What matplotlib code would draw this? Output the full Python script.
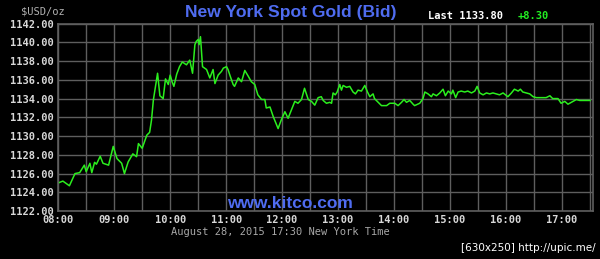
import matplotlib
matplotlib.use('Agg')
import matplotlib.pyplot as plt

# minutes after 08:00 and bid price
minutes = [0, 5, 12, 18, 23, 28, 30, 34, 36, 39, 41, 45, 48, 54, 59, 63, 68, 71, 75, 80,
           84, 86, 90, 95, 98, 100, 102, 104, 106.5, 109, 112.5, 115, 118, 120, 122, 124, 127, 130, 133, 137.5,
           141, 144, 146.5, 148, 150, 151, 152.5, 153.6, 154.7, 159, 162.5, 166, 168, 171.4, 175, 177, 180.4, 182, 184, 187.5,
           189, 193, 196.5, 200, 203.6, 207, 210.7, 214, 218, 221.5, 223, 227, 230.4, 235.7, 239, 243, 246.4, 250, 253.6, 257,
           260.8, 264, 268, 271.5, 275, 278.6, 282, 284, 287.5, 291, 293, 294.6, 297, 299, 301.8, 303.6, 305.4, 309, 312.5, 316,
           318.6, 321.4, 325, 328.6, 331.5, 334, 337.5, 339, 343, 346.5, 352, 355.4, 360.7, 364.3, 368, 370.7, 373.3, 376.8, 380.4, 382,
           387.5, 391, 393, 396.4, 400, 401.8, 405.4, 409, 412.5, 415, 418, 421.5, 423, 426, 428.6, 432, 435.7, 439, 443, 446.5,
           449, 451.8, 455.4, 459, 462.5, 466, 469.7, 473, 476.8, 482, 485.8, 489, 493, 495.4, 498, 501.8, 505.4, 509, 512.5, 518,
           523, 527, 530, 535.7, 539, 543, 546.4, 550, 555.4, 559, 570]
prices = [1125.0, 1125.2, 1124.7, 1126.0, 1126.1, 1126.9, 1126.2, 1127.1, 1126.1, 1127.2, 1127.0, 1127.85, 1127.1, 1126.9, 1128.9, 1127.6, 1127.1, 1126.0, 1127.25, 1128.1,
          1127.8, 1129.2, 1128.7, 1130.1, 1130.4, 1131.7, 1133.85, 1135.1, 1136.7, 1134.3, 1134.0, 1136.1, 1135.5, 1136.5, 1135.8, 1135.3, 1136.6, 1137.4, 1137.9, 1137.6,
          1138.1, 1136.7, 1139.75, 1140.1, 1140.3, 1139.75, 1140.6, 1139.0, 1137.4, 1137.1, 1136.2, 1137.1, 1135.6, 1136.5, 1136.9, 1137.25, 1137.4, 1137.1, 1136.5, 1135.5,
          1135.3, 1136.2, 1135.8, 1137.0, 1136.4, 1135.8, 1135.5, 1134.4, 1133.9, 1133.9, 1133.0, 1133.1, 1132.1, 1130.8, 1131.7, 1132.6, 1131.9, 1132.8, 1133.7, 1133.5,
          1133.9, 1135.1, 1133.9, 1133.7, 1133.3, 1134.1, 1134.2, 1133.8, 1133.5, 1133.6, 1133.5, 1134.6, 1134.4, 1134.7, 1135.5, 1134.9, 1135.4, 1135.2, 1135.3, 1134.7,
          1134.5, 1134.9, 1134.8, 1135.4, 1134.7, 1134.2, 1134.5, 1134.0, 1133.6, 1133.25, 1133.25, 1133.5, 1133.5, 1133.25, 1133.6, 1133.9, 1133.6, 1133.8, 1133.4, 1133.25,
          1133.5, 1134.0, 1134.7, 1134.5, 1134.2, 1134.5, 1134.3, 1134.6, 1135.0, 1134.3, 1134.8, 1134.5, 1134.9, 1134.1, 1134.7, 1134.8, 1134.7, 1134.8, 1134.6, 1134.8,
          1135.3, 1134.6, 1134.4, 1134.6, 1134.5, 1134.6, 1134.5, 1134.4, 1134.6, 1134.2, 1134.6, 1135.0, 1134.8, 1135.0, 1134.7, 1134.6, 1134.5, 1134.2, 1134.1, 1134.1,
          1134.1, 1134.3, 1134.0, 1134.0, 1133.5, 1133.7, 1133.4, 1133.6, 1133.9, 1133.8, 1133.8]

hour_labels = ['08:00', '09:00', '10:00', '11:00', '12:00', '13:00', '14:00', '15:00', '16:00', '17:00']
price_ticks = [1122, 1124, 1126, 1128, 1130, 1132, 1134, 1136, 1138, 1140, 1142]

grid_col = '#5e5e5e'
text_col = '#d8d8d8'
mono = 'DejaVu Sans Mono'

fig = plt.figure(figsize=(6, 2.59), dpi=100, facecolor='black')
ax = fig.add_axes([0.097, 0.185, 0.891, 0.724], facecolor='black')

ax.plot(minutes, prices, color='#2bee1e', linewidth=1.1)

ax.set_xlim(0, 573)
ax.set_ylim(1122, 1142)
ax.set_xticks([i * 60 for i in range(len(hour_labels))])
ax.set_xticklabels(hour_labels)
ax.set_xticks([30 + i * 60 for i in range(len(hour_labels))], minor=True)
ax.set_yticks(price_ticks)
ax.set_yticklabels(['%.2f' % p for p in price_ticks])
ax.grid(True, which='both', color=grid_col, linewidth=1)
ax.set_axisbelow(True)
ax.tick_params(which='both', length=0, colors=text_col, pad=3)
for lab in ax.get_xticklabels() + ax.get_yticklabels():
    lab.set_family(mono)
    lab.set_fontsize(7.5)
    lab.set_fontweight('bold')
for sp in ax.spines.values():
    sp.set_color(grid_col)
    sp.set_linewidth(1.2)

fig.text(0.485, 0.953, 'New York Spot Gold (Bid)', color='#4f6cf0', fontsize=12.6,
         fontweight='bold', family='Liberation Sans', ha='center', va='center')
fig.text(0.035, 0.955, '$USD/oz', color='#b0b0b0', fontsize=7.5, family=mono,
         ha='left', va='center')
fig.text(0.713, 0.937, 'Last 1133.80', color='white', fontsize=7.5, family=mono,
         fontweight='bold', ha='left', va='center')
fig.text(0.862, 0.937, '+8.30', color='#22ee22', fontsize=7.5, family=mono,
         fontweight='bold', ha='left', va='center')
fig.text(0.484, 0.216, 'www.kitco.com', color='#4f6cf0', fontsize=12.5,
         fontweight='bold', family='Liberation Sans', ha='center', va='center')
fig.text(0.468, 0.104, 'August 28, 2015 17:30 New York Time', color='#a8a8a8',
         fontsize=7.5, family=mono, ha='center', va='center')
fig.text(0.992, 0.042, '[630x250] http://upic.me/', color='white', fontsize=7.5,
         family='DejaVu Sans', ha='right', va='center')

fig.savefig('out.png', dpi=100, facecolor='black')
